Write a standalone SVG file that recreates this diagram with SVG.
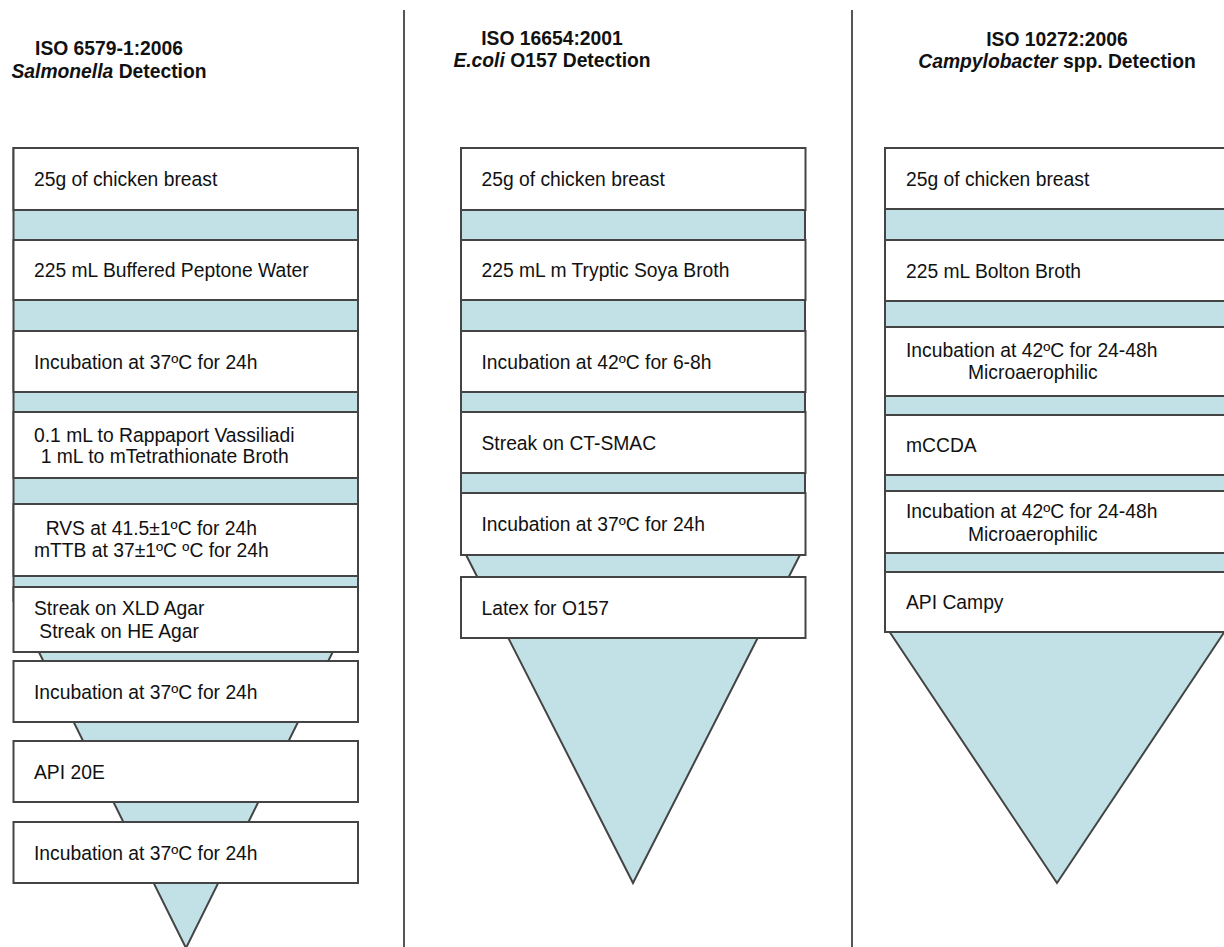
<svg xmlns="http://www.w3.org/2000/svg" width="1224" height="947" viewBox="0 0 1224 947">
<style>
  .bg{fill:#ffffff}
  .funnel{fill:#c2e1e6;stroke:#444;stroke-width:2;stroke-linejoin:miter}
  .box{fill:#ffffff;stroke:#444;stroke-width:2}
  .sep{stroke:#555;stroke-width:2}
  text{font-family:"Liberation Sans",Arial,sans-serif;font-size:19.3px;fill:#111}
  .title{font-weight:bold;text-anchor:middle}
  .it{font-style:italic}
</style>
<rect class="bg" x="0" y="0" width="1224" height="947"/>

<g id="separators">
  <line class="sep" x1="404" y1="10" x2="404" y2="947"/>
  <line class="sep" x1="852" y1="10" x2="852" y2="947"/>
</g>

<g id="titles">
  <text class="title" x="109" y="55">ISO 6579-1:2006</text>
  <text class="title" x="109" y="77.5"><tspan class="it">Salmonella</tspan> Detection</text>
  <text class="title" x="552" y="45">ISO 16654:2001</text>
  <text class="title" x="552" y="67"><tspan class="it">E.coli</tspan> O157 Detection</text>
  <text class="title" x="1057" y="45.5">ISO 10272:2006</text>
  <text class="title" x="1057" y="67.5"><tspan class="it">Campylobacter</tspan> spp. Detection</text>
</g>

<g id="funnels">
  <polygon class="funnel" points="13.5,148 358,148 358,601 186,948 13.5,601"/>
  <polygon class="funnel" points="461,148 805,148 805,545 633,883 461,545"/>
  <polygon class="funnel" points="885,148 1229,148 1229,625 1057,883 885,625"/>
</g>

<g id="salmonella">
  <g id="s1"><rect class="box" x="13.5" y="148" width="344.5" height="62"/><text x="34" y="186">25g of chicken breast</text></g>
  <g id="s2"><rect class="box" x="13.5" y="240" width="344.5" height="60"/><text x="34" y="277">225 mL Buffered Peptone Water</text></g>
  <g id="s3"><rect class="box" x="13.5" y="331" width="344.5" height="61"/><text x="34" y="368.5">Incubation at 37ºC for 24h</text></g>
  <g id="s4"><rect class="box" x="13.5" y="412" width="344.5" height="66"/><text x="34" y="441.7">0.1 mL to Rappaport Vassiliadi</text><text x="40.7" y="463.3">1 mL to mTetrathionate Broth</text></g>
  <g id="s5"><rect class="box" x="13.5" y="504" width="344.5" height="72"/><text x="45.7" y="535.3">RVS at 41.5±1ºC for 24h</text><text x="34" y="556.7">mTTB at 37±1ºC ºC for 24h</text></g>
  <g id="s6"><rect class="box" x="13.5" y="587" width="344.5" height="65"/><text x="34" y="615">Streak on XLD Agar</text><text x="39.3" y="638">Streak on HE Agar</text></g>
  <g id="s7"><rect class="box" x="13.5" y="661" width="344.5" height="61"/><text x="34" y="699">Incubation at 37ºC for 24h</text></g>
  <g id="s8"><rect class="box" x="13.5" y="741" width="344.5" height="61"/><text x="34" y="779">API 20E</text></g>
  <g id="s9"><rect class="box" x="13.5" y="822" width="344.5" height="61"/><text x="34" y="860">Incubation at 37ºC for 24h</text></g>
</g>

<g id="ecoli">
  <g id="e1"><rect class="box" x="461" y="148" width="344.5" height="62"/><text x="481.5" y="186">25g of chicken breast</text></g>
  <g id="e2"><rect class="box" x="461" y="240" width="344.5" height="60"/><text x="481.5" y="277">225 mL m Tryptic Soya Broth</text></g>
  <g id="e3"><rect class="box" x="461" y="331" width="344.5" height="61"/><text x="481.5" y="368.5">Incubation at 42ºC for 6-8h</text></g>
  <g id="e4"><rect class="box" x="461" y="412" width="344.5" height="61"/><text x="481.5" y="449.5">Streak on CT-SMAC</text></g>
  <g id="e5"><rect class="box" x="461" y="493" width="344.5" height="62"/><text x="481.5" y="531">Incubation at 37ºC for 24h</text></g>
  <g id="e6"><rect class="box" x="461" y="577" width="344.5" height="61"/><text x="481.5" y="614.5">Latex for O157</text></g>
</g>

<g id="campylobacter">
  <g id="c1"><rect class="box" x="885" y="148" width="344.5" height="61"/><text x="906" y="185.5">25g of chicken breast</text></g>
  <g id="c2"><rect class="box" x="885" y="240" width="344.5" height="61"/><text x="906" y="277.5">225 mL Bolton Broth</text></g>
  <g id="c3"><rect class="box" x="885" y="327" width="344.5" height="69"/><text x="906" y="356.7">Incubation at 42ºC for 24-48h</text><text x="968" y="378.5">Microaerophilic</text></g>
  <g id="c4"><rect class="box" x="885" y="415" width="344.5" height="60"/><text x="906" y="451.7">mCCDA</text></g>
  <g id="c5"><rect class="box" x="885" y="491" width="344.5" height="62"/><text x="906" y="518.3">Incubation at 42ºC for 24-48h</text><text x="968" y="540.5">Microaerophilic</text></g>
  <g id="c6"><rect class="box" x="885" y="572" width="344.5" height="60"/><text x="906" y="609.3">API Campy</text></g>
</g>
</svg>
